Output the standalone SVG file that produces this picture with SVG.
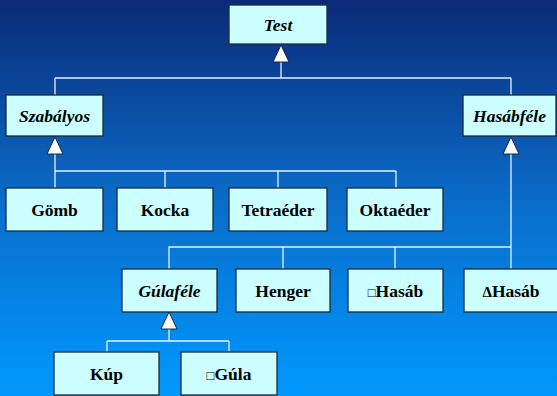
<svg xmlns="http://www.w3.org/2000/svg" width="557" height="396" viewBox="0 0 557 396">
<defs>
<linearGradient id="bg" x1="0" y1="0" x2="0" y2="1">
<stop offset="0" stop-color="#0a2a78"/>
<stop offset="0.5" stop-color="#0a6cc8"/>
<stop offset="1" stop-color="#0099ff"/>
</linearGradient>
<style>
.box{fill:#ccffff;stroke:#1a2a3a;stroke-width:1.3}
.t{font-family:"Liberation Serif","Times New Roman",serif;font-size:17.5px;font-weight:bold;fill:#000;text-anchor:middle}
.i{font-style:italic}
.s{font-size:13px;font-weight:normal}
.d{font-size:15px}
.ln{stroke:#e6f2ff;stroke-width:1.3;fill:none}
.tri{fill:#fff;stroke:#1a2a3a;stroke-width:1}
</style>
</defs>
<rect x="0" y="0" width="557" height="396" fill="url(#bg)"/>
<g id="connectors">
<path class="ln" d="M281 62V78M55 78H511M55 78V95M511 78V95"/>
<path class="ln" d="M55 154V171H396M55 171V188M165 171V188M278 171V188M396 171V188"/>
<path class="ln" d="M511 154V247H169V269M283 247V269M395 247V269M511 247V269"/>
<path class="ln" d="M169 329V341M107 341H229M107 341V352M229 341V352"/>
<polygon class="tri" points="281,45 273,62 289,62"/>
<polygon class="tri" points="55,137 47,154 63,154"/>
<polygon class="tri" points="511,137 503,154 519,154"/>
<polygon class="tri" points="169,312 161,329 177,329"/>
</g>
<g id="test"><rect class="box" x="229" y="5" width="98" height="39"/><text class="t i" x="278" y="31">Test</text></g>
<g id="szabalyos"><rect class="box" x="6" y="95" width="97" height="41"/><text class="t i" x="54.5" y="122">Szabályos</text></g>
<g id="hasabfele"><rect class="box" x="463" y="95" width="93" height="41"/><text class="t i" x="509.5" y="122">Hasábféle</text></g>
<g id="gomb"><rect class="box" x="6" y="188" width="97" height="43"/><text class="t" x="54.5" y="216">Gömb</text></g>
<g id="kocka"><rect class="box" x="117" y="188" width="96" height="43"/><text class="t" x="165" y="216">Kocka</text></g>
<g id="tetraeder"><rect class="box" x="229" y="188" width="98" height="43"/><text class="t" x="278" y="216">Tetraéder</text></g>
<g id="oktaeder"><rect class="box" x="347" y="188" width="96" height="43"/><text class="t" x="395" y="216">Oktaéder</text></g>
<g id="gulafele"><rect class="box" x="122" y="269" width="95" height="43"/><text class="t i" x="169.5" y="297">Gúlaféle</text></g>
<g id="henger"><rect class="box" x="236" y="269" width="94" height="43"/><text class="t" x="283" y="297">Henger</text></g>
<g id="hasab"><rect class="box" x="348" y="269" width="95" height="43"/><text class="t" x="395.5" y="297"><tspan class="s">□</tspan>Hasáb</text></g>
<g id="dhasab"><rect class="box" x="464" y="269" width="96" height="43"/><text class="t" x="511" y="297"><tspan class="d">Δ</tspan>Hasáb</text></g>
<g id="kup"><rect class="box" x="54" y="352" width="105" height="43"/><text class="t" x="106.5" y="380">Kúp</text></g>
<g id="gula"><rect class="box" x="181" y="352" width="96" height="43"/><text class="t" x="229" y="380"><tspan class="s">□</tspan>Gúla</text></g>
</svg>
